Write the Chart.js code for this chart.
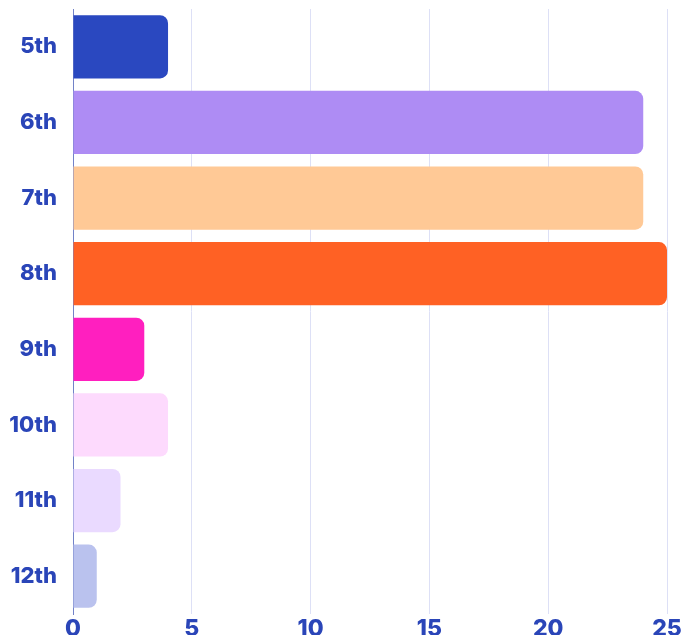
<!DOCTYPE html>
<html>
<head>
<meta charset="utf-8">
<script src="https://cdn.jsdelivr.net/npm/chart.js@4"></script>
<style>
html,body{margin:0;padding:0;background:#fff;}
#wrap{width:683px;height:635px;}
</style>
</head>
<body>
<div id="wrap"><canvas id="c" width="683" height="635"></canvas></div>
<script>
const categories = ["5th","6th","7th","8th","9th","10th","11th","12th"];
const values = [4, 24, 24, 25, 3, 4, 2, 1];
const barColors = ["#2a48c0","#ae8cf4","#ffc996","#ff6124","#ff1fbf","#fddafd","#eadaff","#bac2ee"];
const xTicks = [0, 5, 10, 15, 20, 25];

const labelColor = "#2a45b8";
new Chart(document.getElementById("c"), {
  type: "bar",
  data: {
    labels: categories,
    datasets: [{
      data: values,
      backgroundColor: barColors,
      borderRadius: 8,
      borderSkipped: "start",
      categoryPercentage: 1,
      barPercentage: 0.835
    }]
  },
  options: {
    indexAxis: "y",
    responsive: false,
    animation: false,
    devicePixelRatio: 1,
    layout: { padding: { top: 9, right: 16, left: 0, bottom: 0 } },
    plugins: { legend: { display: false }, tooltip: { enabled: false } },
    scales: {
      x: {
        min: 0, max: 25,
        afterBuildTicks: (s) => { s.ticks = xTicks.map(v => ({ value: v })); },
        afterFit: (s) => { s.height = 21; s.paddingLeft = 0; s.paddingRight = 0; },
        grid: { color: "#dde0f6", lineWidth: 1, drawTicks: false },
        border: { display: false },
        ticks: {
          padding: 1,
          color: labelColor,
          font: { family: "Inter", size: 23, weight: "800" }
        }
      },
      y: {
        afterFit: (s) => { s.width = 73; s.paddingTop = 0; s.paddingBottom = 0; },
        grid: { display: false, drawTicks: false },
        border: { display: true, color: "#7282c8", width: 1 },
        ticks: {
          padding: 16,
          color: labelColor,
          font: { family: "Inter", size: 22, weight: "800" }
        }
      }
    }
  }
});
</script>
</body>
</html>
